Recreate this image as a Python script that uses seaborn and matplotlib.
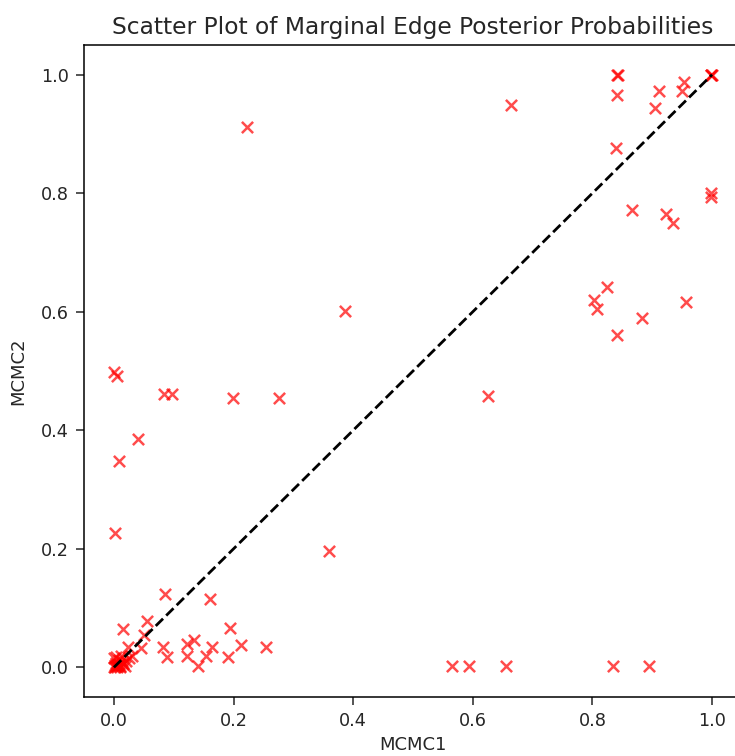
import matplotlib
matplotlib.use("Agg")
import matplotlib.pyplot as plt
import seaborn as sns
import pandas as pd

# Marginal edge posterior probabilities from two MCMC runs
mcmc1 = [
    # upper right cluster
    0.841, 0.843, 0.841, 0.840, 0.664, 0.911, 0.953, 0.950, 0.905,
    0.998, 0.999, 1.000, 0.998, 0.999,
    0.866, 0.923, 0.935, 0.824, 0.803, 0.808, 0.957, 0.883, 0.841,
    # off-diagonal middle
    0.222, 0.387, 0.626, 0.359,
    0.000, 0.005, 0.083, 0.097, 0.199, 0.276, 0.040, 0.008, 0.002,
    # bottom row
    0.566, 0.594, 0.656, 0.835, 0.895,
    # lower left scatter
    0.085, 0.160, 0.015, 0.055, 0.050, 0.194, 0.134, 0.123, 0.213, 0.255,
    0.164, 0.082, 0.088, 0.123, 0.154, 0.190, 0.140, 0.045, 0.023,
    # cluster near origin
    0.000, 0.002, 0.005, 0.010, 0.003, 0.008, 0.015, 0.020, 0.012,
    0.025, 0.000, 0.006, 0.030, 0.018, 0.001, 0.004, 0.013, 0.009,
    0.007, 0.016, 0.011,
]
mcmc2 = [
    1.000, 1.000, 0.966, 0.877, 0.948, 0.973, 0.988, 0.973, 0.943,
    1.000, 0.999, 1.000, 0.801, 0.793,
    0.771, 0.765, 0.750, 0.641, 0.619, 0.605, 0.617, 0.589, 0.560,
    0.912, 0.602, 0.457, 0.197,
    0.499, 0.492, 0.462, 0.462, 0.454, 0.454, 0.386, 0.349, 0.226,
    0.002, 0.002, 0.002, 0.003, 0.003,
    0.123, 0.116, 0.064, 0.078, 0.054, 0.066, 0.046, 0.039, 0.037, 0.034,
    0.034, 0.034, 0.017, 0.019, 0.019, 0.017, 0.003, 0.032, 0.034,
    0.000, 0.001, 0.003, 0.000, 0.008, 0.012, 0.005, 0.010, 0.020,
    0.015, 0.015, 0.000, 0.020, 0.002, 0.004, 0.018, 0.010, 0.006,
    0.004, 0.008, 0.002,
]

df = pd.DataFrame({"MCMC1": mcmc1, "MCMC2": mcmc2})

fig = plt.figure(figsize=(7.35, 7.56), dpi=100)
W, H = 735, 756
ax = fig.add_axes([84 / W, (H - 697) / H, (742 - 84) / W, (697 - 45) / H])

sns.scatterplot(data=df, x="MCMC1", y="MCMC2", marker="x", color="red",
                alpha=0.7, s=65, linewidth=1.8, ax=ax, legend=False)
ax.plot([0, 1], [0, 1], "k--", linewidth=2.0)

ax.set_xlim(-0.05, 1.05)
ax.set_ylim(-0.05, 1.05)
ax.set_xticks([0.0, 0.2, 0.4, 0.6, 0.8, 1.0])
ax.set_yticks([0.0, 0.2, 0.4, 0.6, 0.8, 1.0])
ax.tick_params(labelsize=12.7, length=5.8, width=1.1, pad=5, colors="#262626")
ax.tick_params(labelcolor="#262626")
for sp in ax.spines.values():
    sp.set_linewidth(1.1)
ax.set_xlabel("MCMC1", fontsize=13, color="#262626", labelpad=4)
ax.set_ylabel("MCMC2", fontsize=13, color="#262626", labelpad=10)
ax.set_title("Scatter Plot of Marginal Edge Posterior Probabilities",
             fontsize=16.8, pad=8, color="#262626")

fig.savefig("out.png", dpi=100)
